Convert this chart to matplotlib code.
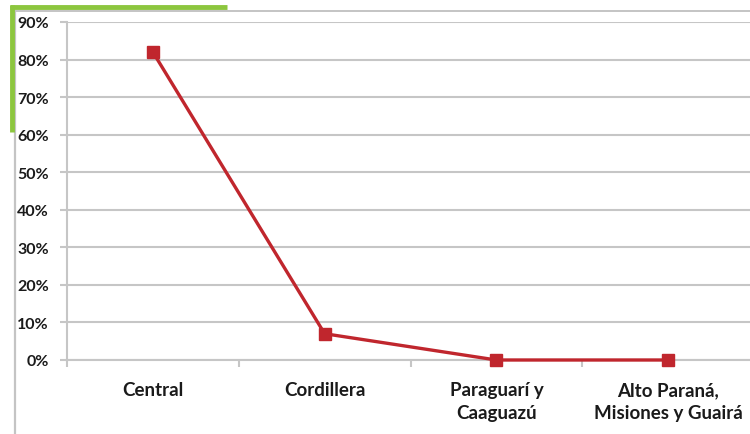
import matplotlib
matplotlib.use("Agg")
import matplotlib.pyplot as plt
from matplotlib.lines import Line2D

categories = ["Central", "Cordillera", "Paraguarí y\nCaaguazú", "Alto Paraná,\nMisiones y Guairá"]
values = [0.82, 0.07, 0.0, 0.0]
yticks = [0.0, 0.1, 0.2, 0.3, 0.4, 0.5, 0.6, 0.7, 0.8, 0.9]
ytick_labels = ["0%", "10%", "20%", "30%", "40%", "50%", "60%", "70%", "80%", "90%"]

plt.rcParams['font.family'] = ['Lato', 'DejaVu Sans']
plt.rcParams['font.weight'] = 'bold'

W, H = 750, 435
fig = plt.figure(figsize=(7.5, 4.35), dpi=100)
ax = fig.add_axes([67 / W, 1 - 361 / H, (754 - 67) / W, (361 - 23) / H])

grid_c = "#c6c6c6"
x = list(range(len(categories)))
ax.plot(x, values, color="#c0262d", lw=2.4, marker="s", markersize=9,
        markerfacecolor="#c0262d", markeredgecolor="#c0262d", zorder=3, clip_on=False)

ax.set_xlim(-0.5, len(categories) - 0.5)
ax.set_ylim(0, 0.9)
ax.set_yticks(yticks)
ax.set_yticklabels(ytick_labels, fontsize=11.5, fontweight='bold', color="#1a1a1a")
ax.set_xticks(x)
ax.set_xticklabels(categories, fontsize=13.5, fontweight='bold', color="#1a1a1a",
                   linespacing=1.45)
ax.set_xticks([i - 0.5 for i in range(len(categories) + 1)], minor=True)

ax.yaxis.grid(True, color=grid_c, lw=1.5)
ax.set_axisbelow(True)
for s in ["top", "right"]:
    ax.spines[s].set_visible(False)
ax.spines["left"].set_color(grid_c)
ax.spines["left"].set_linewidth(1.5)
ax.spines["bottom"].set_color(grid_c)
ax.spines["bottom"].set_linewidth(1.5)
ax.tick_params(axis="y", length=5, color=grid_c, width=1.5, pad=8)
ax.tick_params(axis="x", which="major", length=0, pad=15)
ax.tick_params(axis="x", which="minor", length=5, color=grid_c, width=1.5)

# outer frame and green accents
fig.add_artist(Line2D([14.5 / W, 14.5 / W], [0, 1 - 12 / H], color="#c4c4c4", lw=1.6, transform=fig.transFigure))
fig.add_artist(Line2D([14 / W, 1], [1 - 12 / H, 1 - 12 / H], color="#c4c4c4", lw=1.4, transform=fig.transFigure))
fig.add_artist(Line2D([10 / W, 227 / W], [1 - 8 / H, 1 - 8 / H], color="#8cc63e", lw=3.5, transform=fig.transFigure, solid_capstyle="butt"))
fig.add_artist(Line2D([11.5 / W, 11.5 / W], [1 - 6 / H, 1 - 133 / H], color="#8cc63e", lw=3.5, transform=fig.transFigure, solid_capstyle="butt"))

fig.savefig("out.png", dpi=100)
